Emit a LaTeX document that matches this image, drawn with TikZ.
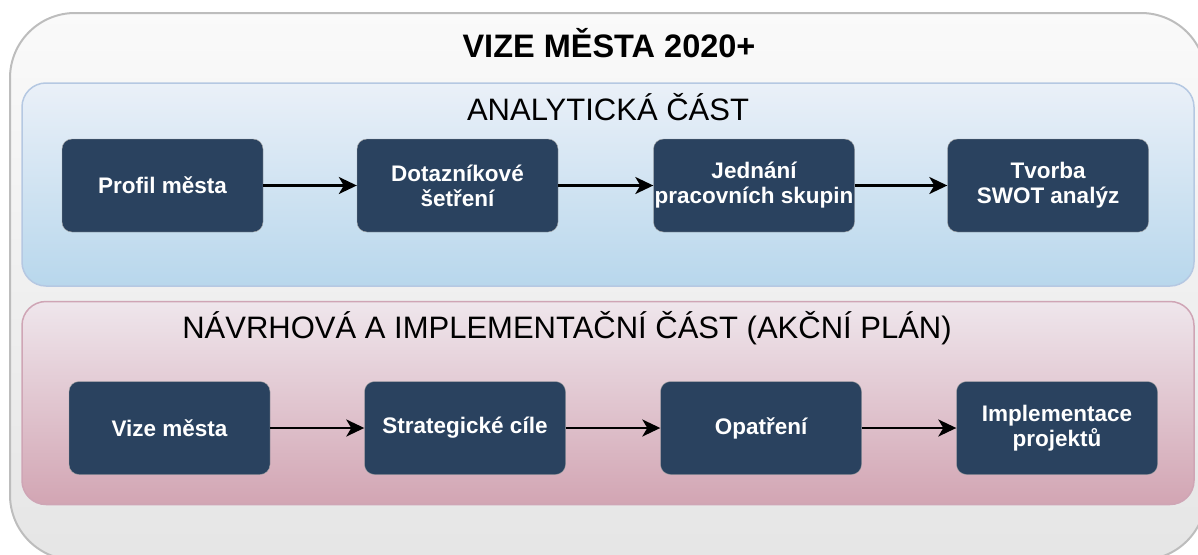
\documentclass[tikz,border=0pt]{standalone}
\usepackage{fontspec}
\setmainfont{Liberation Sans}
\usetikzlibrary{arrows.meta}
\definecolor{krokfill}{HTML}{2A425F}
\definecolor{vnejsi}{HTML}{BDBDBD}
\definecolor{modrahore}{HTML}{EAF0F8}
\definecolor{modradole}{HTML}{B8D7EC}
\definecolor{modraokraj}{HTML}{B5C8E2}
\definecolor{ruzovahore}{HTML}{EFE6EC}
\definecolor{ruzovadole}{HTML}{D2A5B3}
\definecolor{ruzovaokraj}{HTML}{CFA5B5}
\begin{document}
\begin{tikzpicture}[x=1pt, y=-1pt,
		krok/.style={draw=gray!70, fill=krokfill, text=white, rounded corners=10pt, minimum width=201pt, minimum height=93pt, inner sep=0pt, align=center, font=\fontsize{22.5}{25}\selectfont\bfseries},
		sip/.style={line width=2.5pt, -{Stealth[length=18pt, width=17pt, inset=5pt]}},
		cast/.style={rounded corners=24pt, line width=1.5pt, minimum width=1172pt, minimum height=203pt, inner sep=0pt},
		nadpis/.style={anchor=base, font=\fontsize{31}{36}\selectfont}]
		\useasboundingbox (0,0) rectangle (1198,554);
		\clip (0,0) rectangle (1198,554);
		\node[draw=vnejsi, line width=2pt, rounded corners=65pt, top color=black!2, bottom color=black!10, minimum width=1196pt, minimum height=547pt, inner sep=0pt] (vm) at (608, 286.5) {};
		\node[anchor=base, font=\fontsize{32.5}{36}\selectfont\bfseries] (tt) at (609, 57) {VIZE MĚSTA 2020+};

		\node[cast, draw=modraokraj, top color=modrahore, bottom color=modradole] (an) at (608, 184.5) {};
		\node[nadpis] (ant) at (608, 120) {ANALYTICKÁ ČÁST};
		\node[cast, draw=ruzovaokraj, top color=ruzovahore, bottom color=ruzovadole] (nv) at (608, 403) {};
		\node[nadpis] (nvt) at (567, 338) {NÁVRHOVÁ A IMPLEMENTAČNÍ ČÁST (AKČNÍ PLÁN)};

		\node[krok] (pm) at (162.5, 185.5) {Profil města};
		\node[krok] (dt) at (457.5, 185.5) {Dotazníkové\\šetření};
		\node[krok] (jp) at (754, 185.5) {Jednání\\pracovních skupin};
		\node[krok] (sw) at (1048, 185.5) {Tvorba\\SWOT analýz};

		\node[krok] (vz) at (169.5, 428) {Vize města};
		\node[krok] (sc) at (465, 428) {Strategické cíle};
		\node[krok] (op) at (761, 428) {Opatření};
		\node[krok] (ip) at (1057, 428) {Implementace\\projektů};

		\path (pm) edge[sip] (dt)
		(dt) edge[sip] (jp)
		(jp) edge[sip] (sw)
		(vz) edge[sip] (sc)
		(sc) edge[sip] (op)
		(op) edge[sip] (ip);
	\end{tikzpicture}
\end{document}
